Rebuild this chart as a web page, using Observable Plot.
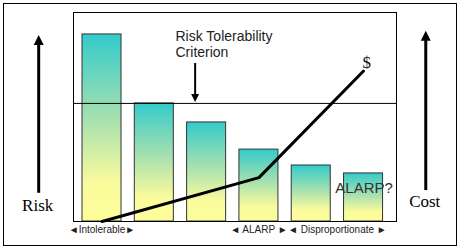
<!DOCTYPE html>
<html><head><meta charset="utf-8">
<script src="https://cdn.jsdelivr.net/npm/d3@7"></script>
<script src="https://cdn.jsdelivr.net/npm/@observablehq/plot@0.6"></script>
<style>body{margin:0;background:#fff} svg{display:block}</style>
</head><body><div id="chart"></div>
<script>
// Risk level of each option (relative units, 0-100)
const options = ["1", "2", "3", "4", "5", "6"];
const riskLevels = [89.5, 56.5, 47.4, 34.4, 26.8, 23.0];
const criterion = 56.5;
// Cost line: option index where the line bends, and cost value
const costOption = [0, 3, 5];
const costValues = [0, 21, 72];
// Zones along the bottom
const zoneLabels = ["\u25C4Intolerable\u25BA", "\u25C4 ALARP \u25BA", "\u25C4 Disproportionate \u25BA"];
const zoneFrom = [0, 3, 4];
const zoneTo = [0, 3, 5];

const half = 0.373;
const bars = options.map((o, i) => ({option: o, i, risk: riskLevels[i]}));
const cost = costOption.map((i, k) => ({i, cost: costValues[k]}));
const zones = zoneLabels.map((t, k) => ({label: t, x: (zoneFrom[k] + zoneTo[k]) / 2}));

function defs() {
  const d = d3.create("svg:defs");
  const g = d.append("linearGradient").attr("id", "riskGrad")
    .attr("x1", 0).attr("y1", 0).attr("x2", 0).attr("y2", 1);
  g.append("stop").attr("offset", "0").attr("stop-color", "#33cbca");
  g.append("stop").attr("offset", "0.45").attr("stop-color", "#a6e0b0");
  g.append("stop").attr("offset", "0.8").attr("stop-color", "#fafb9c");
  g.append("stop").attr("offset", "1").attr("stop-color", "#fdfd9a");
  return d.node();
}

// draws a vertical arrow from yTail to yTip with a filled head
function arrow(g, x, yTail, yTip, w, head, hw) {
  const dir = yTip < yTail ? 1 : -1; // 1: pointing up
  const base = yTip + dir * head;
  g.append("line").attr("x1", x).attr("x2", x).attr("y1", yTail).attr("y2", base - dir)
    .attr("stroke", "#000").attr("stroke-width", w);
  g.append("path").attr("d", `M${x},${yTip}L${x - hw},${base}L${x + hw},${base}Z`).attr("fill", "#000");
}

function decorations(index, scales, values, dimensions) {
  const {x, y} = scales;
  const {width, marginLeft, marginRight} = dimensions;
  const g = d3.create("svg:g");
  // Risk tolerability criterion arrow (points down to the line)
  arrow(g, x(1.79), y(75.6), y(criterion) - 1, 2, 8, 4);
  // Risk and Cost axis arrows
  const lx = marginLeft * 0.53, rx = width - marginRight * 0.52;
  arrow(g, lx, y(13.5), y(89), 3, 10, 5);
  arrow(g, rx, y(14.8), y(91), 3, 10, 5);
  g.append("text").attr("x", lx - 1).attr("y", y(4.8)).attr("text-anchor", "middle")
    .attr("font-family", "Liberation Serif, Times New Roman, serif").attr("font-size", 17).text("Risk");
  g.append("text").attr("x", rx - 1).attr("y", y(6.7)).attr("text-anchor", "middle")
    .attr("font-family", "Liberation Serif, Times New Roman, serif").attr("font-size", 17).text("Cost");
  return g.node();
}

const chart = Plot.plot({
  width: 458,
  height: 248,
  marginLeft: 73,
  marginRight: 62,
  marginTop: 12,
  marginBottom: 27,
  x: {type: "linear", domain: [-0.545, 5.63], axis: null},
  y: {domain: [0, 100], axis: null},
  style: {fontFamily: "Liberation Sans, Arial, sans-serif", background: "#fff", overflow: "visible"},
  marks: [
    defs,
    Plot.rectY(bars, {x1: d => d.i - half, x2: d => d.i + half, y1: 0, y2: "risk",
      fill: "url(#riskGrad)", stroke: "#333", strokeWidth: 1}),
    Plot.ruleY([criterion], {stroke: "#000", strokeWidth: 1}),
    Plot.frame({stroke: "#000", strokeWidth: 1}),
    Plot.frame({stroke: "#000", strokeWidth: 1, insetLeft: -70, insetTop: -9, insetRight: -60, insetBottom: -24}),
    Plot.line(cost, {x: "i", y: "cost", stroke: "#000", strokeWidth: 3}),
    Plot.text(["Risk Tolerability\nCriterion"], {x: 1.405, y: 91.5, text: d => d, textAnchor: "start",
      lineAnchor: "top", fontSize: 14, lineHeight: 1.12, fill: "#222"}),
    Plot.text(["$"], {x: 5.06, y: 76, text: d => d, fontSize: 17,
      fontFamily: "Liberation Serif, Times New Roman, serif", fill: "#111"}),
    Plot.text(["ALARP?"], {x: 4.46, y: 15.8, text: d => d, textAnchor: "start", fontSize: 15, fill: "#333"}),
    Plot.text(zones, {x: "x", text: "label", frameAnchor: "bottom", dy: 8, lineAnchor: "middle",
      fontSize: 10, fill: "#222"}),
    decorations
  ]
});
document.getElementById("chart").appendChild(chart);
</script>
</body></html>
